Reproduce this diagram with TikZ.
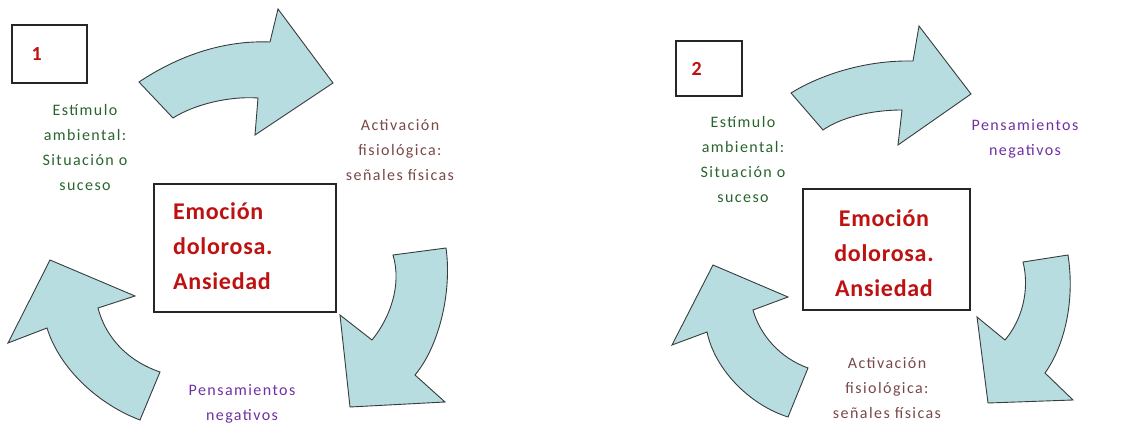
\documentclass[tikz,border=0pt]{standalone}
\usepackage{fontspec}
\setmainfont{Carlito}
\newfontfamily\labelfont[LetterSpace=9]{Carlito}
\newfontfamily\emofont[LetterSpace=3]{Carlito}
\definecolor{arrowfill}{RGB}{183,221,224}
\definecolor{arrowline}{RGB}{55,60,60}
\definecolor{stimgreen}{RGB}{40,100,45}
\definecolor{thoughtpurple}{RGB}{112,48,160}
\definecolor{bodybrown}{RGB}{120,72,72}
\definecolor{emored}{RGB}{190,18,18}
\tikzset{
  cyclearrow/.style={fill=arrowfill, draw=arrowline, line width=0.9pt, line join=miter},
  framebox/.style={draw=black!85, line width=1.1pt, fill=white},
  smalltext/.style={align=center, inner sep=0pt, font=\labelfont\fontsize{16}{25}\selectfont},
  stimtext/.style={smalltext, text=stimgreen},
  thoughttext/.style={smalltext, text=thoughtpurple},
  bodytext/.style={smalltext, text=bodybrown},
  emotext/.style={inner sep=0pt, text=emored, font=\emofont\bfseries\fontsize{24}{35}\selectfont},
  numtext/.style={inner sep=0pt, text=emored, font=\bfseries\fontsize{20}{22}\selectfont},
}
\begin{document}
\begin{tikzpicture}[x=1pt, y=-1pt]
\useasboundingbox (0,0) rectangle (1129,427);

% ---------- Cycle 1 ----------
\node[framebox, minimum width=75pt, minimum height=58pt] (box1) at (49.5,54) {};
\node[numtext, anchor=west] (num1) at ([xshift=20pt]box1.west) {1};

% arrow: stimulus -> physiological activation
\draw[cyclearrow] (139,82) .. controls (175,58) and (220,40) .. (270,42)
  -- (278,9) -- (333,83) -- (255,135) -- (258,98)
  .. controls (230,96) and (195,104) .. (173,118) -- cycle;
% arrow: activation -> thoughts
\draw[cyclearrow] (393,255) -- (446,248)
  .. controls (452,290) and (440,345) .. (415,375)
  -- (445,402) -- (350,407) -- (340,315) -- (372,340)
  .. controls (390,318) and (402,285) .. cycle;
% arrow: thoughts -> stimulus
\draw[cyclearrow] (160,372) -- (140,420)
  .. controls (100,405) and (60,370) .. (47,328)
  -- (8,343) -- (50,260) -- (135,296) -- (98,308)
  .. controls (105,335) and (125,360) .. cycle;

\node[stimtext] (stim1) at (85,148) {Estímulo\\ambiental:\\Situación o\\suceso};
\node[bodytext] (body1) at (400,150) {Activación\\fisiológica:\\señales físicas};
\node[thoughttext] (thought1) at (242,404) {Pensamientos\\negativos};

\node[framebox, minimum width=182pt, minimum height=128pt] (emo1) at (245,248) {};
\node[emotext, align=left, anchor=west] (emotxt1) at (173,246) {Emoción\\dolorosa.\\Ansiedad};

% ---------- Cycle 2 ----------
\node[framebox, minimum width=66pt, minimum height=55pt] (box2) at (709,68.5) {};
\node[numtext, anchor=west] (num2) at ([xshift=16pt]box2.west) {2};

% arrow: stimulus -> thoughts
\draw[cyclearrow] (791,93) .. controls (820,75) and (865,60) .. (913,61)
  -- (919,26) -- (971,94) -- (898,145) -- (902,110)
  .. controls (870,110) and (840,118) .. (823,130) -- cycle;
% arrow: thoughts -> activation
\draw[cyclearrow] (1023,262) -- (1068,255)
  .. controls (1075,300) and (1065,345) .. (1045,373)
  -- (1073,400) -- (988,403) -- (977,317) -- (1005,340)
  .. controls (1022,320) and (1030,290) .. cycle;
% arrow: activation -> stimulus
\draw[cyclearrow] (808,368) -- (788,417)
  .. controls (750,405) and (715,370) .. (707,332)
  -- (672,345) -- (713,265) -- (788,297) -- (753,310)
  .. controls (760,335) and (780,358) .. cycle;

\node[stimtext] (stim2) at (743,160) {Estímulo\\ambiental:\\Situación o\\suceso};
\node[thoughttext] (thought2) at (1025,139) {Pensamientos\\negativos};
\node[bodytext] (body2) at (887,388) {Activación\\fisiológica:\\señales físicas};

\node[framebox, minimum width=167pt, minimum height=121pt] (emo2) at (886.5,249.5) {};
\node[emotext, align=center] (emotxt2) at (884,253) {Emoción\\dolorosa.\\Ansiedad};
\end{tikzpicture}
\end{document}
